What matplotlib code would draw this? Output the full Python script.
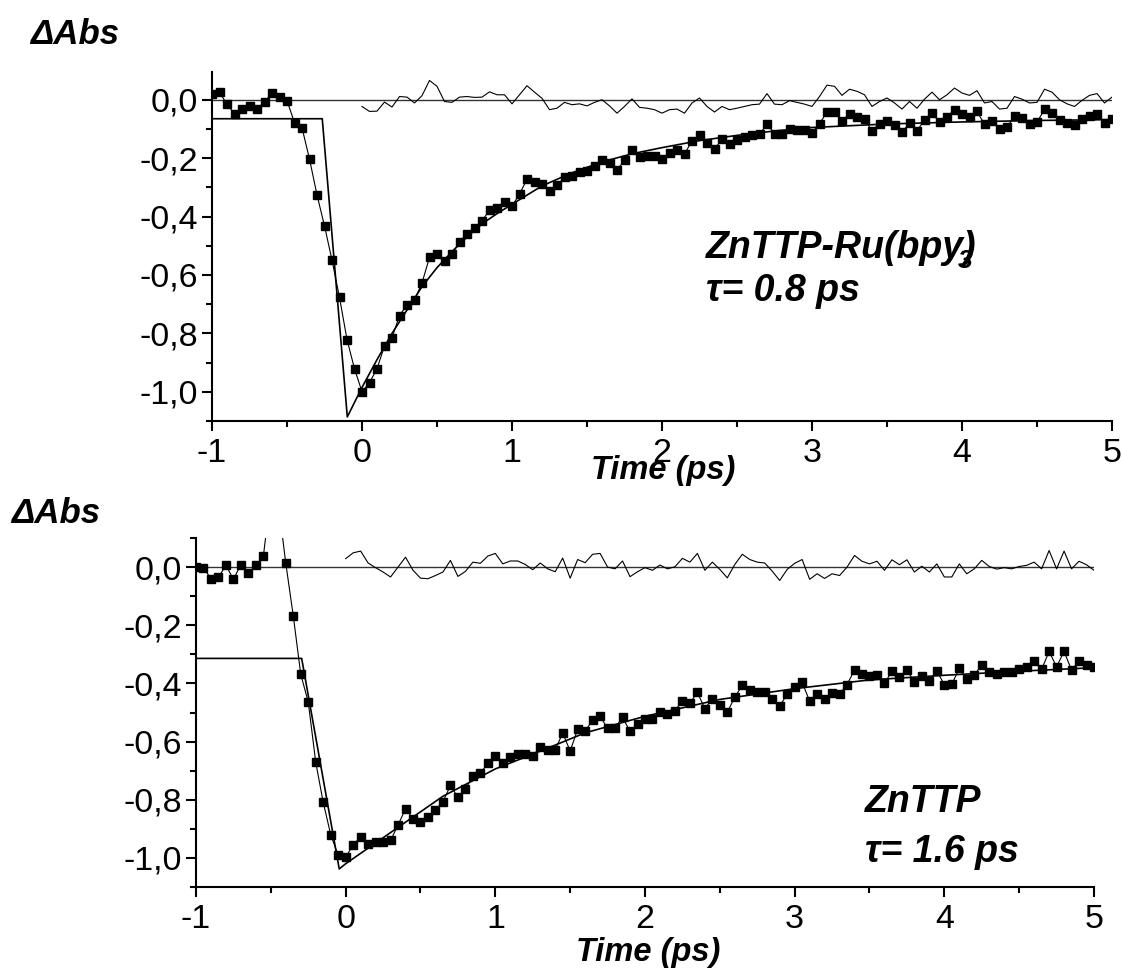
import numpy as np
import matplotlib.pyplot as plt
from matplotlib.ticker import MultipleLocator, FuncFormatter

plt.rcParams['font.family'] = ['Liberation Sans', 'DejaVu Sans']

# sampling of the measured kinetics (ps)
T_START = -1.0
T_STEP = 0.05

# ZnTTP-Ru(bpy)3, signal from -1 ps, residual from 0 ps
ru_signal = [0.021, 0.026, -0.016, -0.048, -0.032, -0.021, -0.032, -0.007, 0.023, 0.009,
             -0.003, -0.079, -0.096, -0.203, -0.326, -0.432, -0.549, -0.677, -0.821, -0.921,
             -1.000, -0.969, -0.921, -0.843, -0.815, -0.739, -0.702, -0.686, -0.627, -0.540,
             -0.529, -0.553, -0.529, -0.486, -0.459, -0.439, -0.415, -0.378, -0.370, -0.351,
             -0.364, -0.323, -0.272, -0.281, -0.288, -0.314, -0.293, -0.265, -0.262, -0.246,
             -0.244, -0.226, -0.205, -0.217, -0.240, -0.208, -0.171, -0.197, -0.193, -0.193,
             -0.202, -0.183, -0.173, -0.185, -0.142, -0.122, -0.148, -0.168, -0.136, -0.153,
             -0.139, -0.128, -0.121, -0.119, -0.083, -0.116, -0.119, -0.100, -0.103, -0.105,
             -0.113, -0.082, -0.042, -0.043, -0.073, -0.048, -0.059, -0.065, -0.107, -0.082,
             -0.073, -0.088, -0.111, -0.080, -0.107, -0.068, -0.045, -0.077, -0.059, -0.034,
             -0.048, -0.059, -0.040, -0.084, -0.073, -0.100, -0.094, -0.056, -0.062, -0.082,
             -0.077, -0.033, -0.046, -0.071, -0.080, -0.088, -0.067, -0.054, -0.048, -0.080,
             -0.065]
ru_resid = [-0.023, -0.040, -0.039, -0.008, -0.025, 0.011, 0.009, -0.011, 0.014, 0.066,
            0.046, -0.006, -0.009, 0.009, 0.011, 0.008, 0.009, 0.027, 0.017, 0.017,
            -0.014, 0.017, 0.048, 0.026, 0.005, -0.034, -0.029, -0.009, -0.017, -0.014,
            -0.021, -0.009, 0.000, -0.021, -0.046, -0.023, 0.003, -0.026, -0.029, -0.034,
            -0.046, -0.034, -0.032, -0.046, -0.011, 0.006, -0.023, -0.042, -0.023, -0.034,
            -0.029, -0.023, -0.017, -0.015, 0.021, -0.015, -0.017, -0.003, -0.009, -0.015,
            -0.023, 0.011, 0.050, 0.046, 0.015, 0.036, 0.029, 0.017, -0.023, -0.006,
            0.006, -0.011, -0.032, -0.006, -0.029, 0.002, 0.026, 0.000, 0.017, 0.040,
            0.023, 0.015, 0.031, -0.011, -0.006, -0.032, -0.029, 0.011, 0.002, -0.011,
            -0.009, 0.036, 0.026, 0.000, -0.014, -0.023, -0.002, 0.015, 0.021, -0.011,
            0.009]
ru_fit_t = [-1.0, -0.265, -0.098, 0.0, 0.1, 0.2, 0.3, 0.4, 0.5, 0.6, 0.7, 0.8, 0.9, 1.0,
            1.2, 1.4, 1.6, 1.8, 2.0, 2.25, 2.5, 2.75, 3.0, 3.5, 4.0, 4.5, 5.0]
ru_fit = [-0.065, -0.065, -1.086, -0.985, -0.89, -0.80, -0.72, -0.64, -0.575, -0.52, -0.47,
          -0.425, -0.39, -0.358, -0.295, -0.25, -0.213, -0.185, -0.164, -0.14, -0.122,
          -0.107, -0.095, -0.083, -0.076, -0.071, -0.068]

# ZnTTP
zn_signal = [0.001, -0.002, -0.040, -0.035, 0.006, -0.042, 0.008, -0.021, 0.006, 0.037,
             0.25, 0.22, 0.013, -0.168, -0.369, -0.464, -0.671, -0.809, -0.920, -0.991,
             -0.998, -0.955, -0.928, -0.951, -0.945, -0.945, -0.940, -0.887, -0.831, -0.866,
             -0.877, -0.861, -0.835, -0.807, -0.751, -0.792, -0.764, -0.717, -0.709, -0.674,
             -0.648, -0.674, -0.654, -0.641, -0.643, -0.650, -0.617, -0.630, -0.628, -0.571,
             -0.632, -0.558, -0.564, -0.526, -0.513, -0.555, -0.552, -0.517, -0.565, -0.540,
             -0.522, -0.524, -0.498, -0.506, -0.494, -0.459, -0.468, -0.431, -0.487, -0.452,
             -0.474, -0.499, -0.447, -0.407, -0.421, -0.428, -0.428, -0.454, -0.478, -0.437,
             -0.413, -0.396, -0.461, -0.438, -0.453, -0.432, -0.436, -0.404, -0.354, -0.366,
             -0.375, -0.372, -0.400, -0.358, -0.377, -0.353, -0.396, -0.375, -0.393, -0.358,
             -0.404, -0.403, -0.348, -0.386, -0.372, -0.336, -0.361, -0.366, -0.360, -0.361,
             -0.352, -0.344, -0.323, -0.352, -0.290, -0.343, -0.290, -0.354, -0.323, -0.335,
             -0.345]
zn_resid = [0.029, 0.049, 0.055, 0.014, -0.002, -0.017, -0.034, 0.000, 0.034, -0.011,
            -0.038, -0.040, -0.029, -0.017, 0.023, -0.032, -0.015, 0.017, 0.013, 0.038,
            0.047, 0.011, 0.021, 0.021, 0.009, -0.009, 0.014, -0.006, -0.016, 0.031,
            -0.038, 0.026, 0.015, 0.044, 0.047, 0.000, -0.006, 0.021, -0.033, -0.016,
            -0.002, -0.011, 0.007, -0.006, 0.001, 0.030, 0.017, 0.047, -0.011, 0.017,
            -0.008, -0.037, 0.009, 0.044, 0.026, 0.017, 0.014, -0.014, -0.046, -0.008,
            0.013, 0.026, -0.042, -0.023, -0.039, -0.023, -0.029, 0.000, 0.040, 0.020,
            0.011, 0.020, -0.011, 0.025, 0.008, 0.025, -0.017, 0.003, -0.017, 0.011,
            -0.034, -0.034, 0.011, -0.023, -0.006, 0.023, 0.002, -0.007, -0.002, -0.006,
            0.002, 0.006, 0.017, -0.006, 0.057, -0.006, 0.055, -0.006, 0.020, 0.008,
            -0.011]
zn_fit_t = [-1.0, -0.294, -0.043, 0.0, 0.35, 0.65, 1.0, 1.3, 1.6, 2.0, 2.5, 3.0, 3.5,
            4.0, 4.5, 5.0]
zn_fit = [-0.314, -0.314, -1.038, -1.02, -0.895, -0.788, -0.694, -0.633, -0.570, -0.513,
          -0.455, -0.418, -0.388, -0.372, -0.358, -0.346]


def comma_fmt(v, pos):
    if abs(v) < 1e-9:
        return "0,0"
    return ("%.1f" % v).replace('.', ',')


def draw_panel(ax, signal, resid, fit_t, fit_y, ylim):
    t = T_START + T_STEP * np.arange(len(signal))
    tr = T_STEP * np.arange(len(resid))
    ax.axhline(0, color='#333333', lw=1.0)
    ax.plot(tr, resid, color='k', lw=0.8)
    ax.plot(t, signal, color='k', lw=0.8, marker='s', ms=5.2, mfc='k', mec='k')
    ax.plot(fit_t, fit_y, color='k', lw=1.2)
    ax.set_xlim(-1, 5)
    ax.set_ylim(ylim)
    ax.spines['top'].set_visible(False)
    ax.spines['right'].set_visible(False)
    ax.spines['left'].set_linewidth(1.5)
    ax.spines['bottom'].set_linewidth(1.5)
    ax.xaxis.set_major_locator(MultipleLocator(1))
    ax.xaxis.set_minor_locator(MultipleLocator(0.5))
    ax.yaxis.set_major_locator(MultipleLocator(0.2))
    ax.yaxis.set_minor_locator(MultipleLocator(0.1))
    ax.yaxis.set_major_formatter(FuncFormatter(comma_fmt))
    ax.xaxis.set_major_formatter(FuncFormatter(lambda v, p: "%d" % round(v)))
    ax.tick_params(which='major', direction='out', length=7, width=1.5,
                   labelsize=24.5, pad=3)
    ax.tick_params(axis='x', which='major', pad=5)
    ax.tick_params(which='minor', direction='out', length=4.5, width=1.5)


fig = plt.figure(figsize=(11.22, 9.74), dpi=100)
W, H = 1122.0, 974.0

ax1 = fig.add_axes([212 / W, 1 - 421 / H, 900 / W, 349 / H])
draw_panel(ax1, ru_signal, ru_resid, ru_fit_t, ru_fit, (-1.1, 0.095))

ax2 = fig.add_axes([196 / W, 1 - 887 / H, 898 / W, 349 / H])
draw_panel(ax2, zn_signal, zn_resid, zn_fit_t, zn_fit, (-1.1, 0.1))

bi = dict(fontweight='bold', style='italic', color='k')

fig.text(30 / W, 1 - 44 / H, "ΔAbs", fontsize=25, va='baseline', ha='left', **bi)
fig.text(11 / W, 1 - 523 / H, "ΔAbs", fontsize=25, va='baseline', ha='left', **bi)
fig.text(663 / W, 1 - 479 / H, "Time (ps)", fontsize=23.5, va='baseline', ha='center', **bi)
fig.text(648 / W, 1 - 961 / H, "Time (ps)", fontsize=23.5, va='baseline', ha='center', **bi)

ru_name = fig.text(706 / W, 1 - 258 / H, "ZnTTP-Ru(bpy)", fontsize=27,
                   va='baseline', ha='left', **bi)
fig.text(706 / W, 1 - 301 / H, "τ= 0.8 ps", fontsize=27, va='baseline', ha='left', **bi)

# subscript 3 tucked under the closing bracket, as in the original
fig.canvas.draw()
bb = ru_name.get_window_extent()
fig.text((bb.x1 - 19) / W, 1 - 268 / H, "3", fontsize=19, va='baseline', ha='left', **bi)

fig.text(865 / W, 1 - 812 / H, "ZnTTP", fontsize=27, va='baseline', ha='left', **bi)
fig.text(865 / W, 1 - 862 / H, "τ= 1.6 ps", fontsize=27, va='baseline', ha='left', **bi)

fig.savefig("out.png", dpi=100)
